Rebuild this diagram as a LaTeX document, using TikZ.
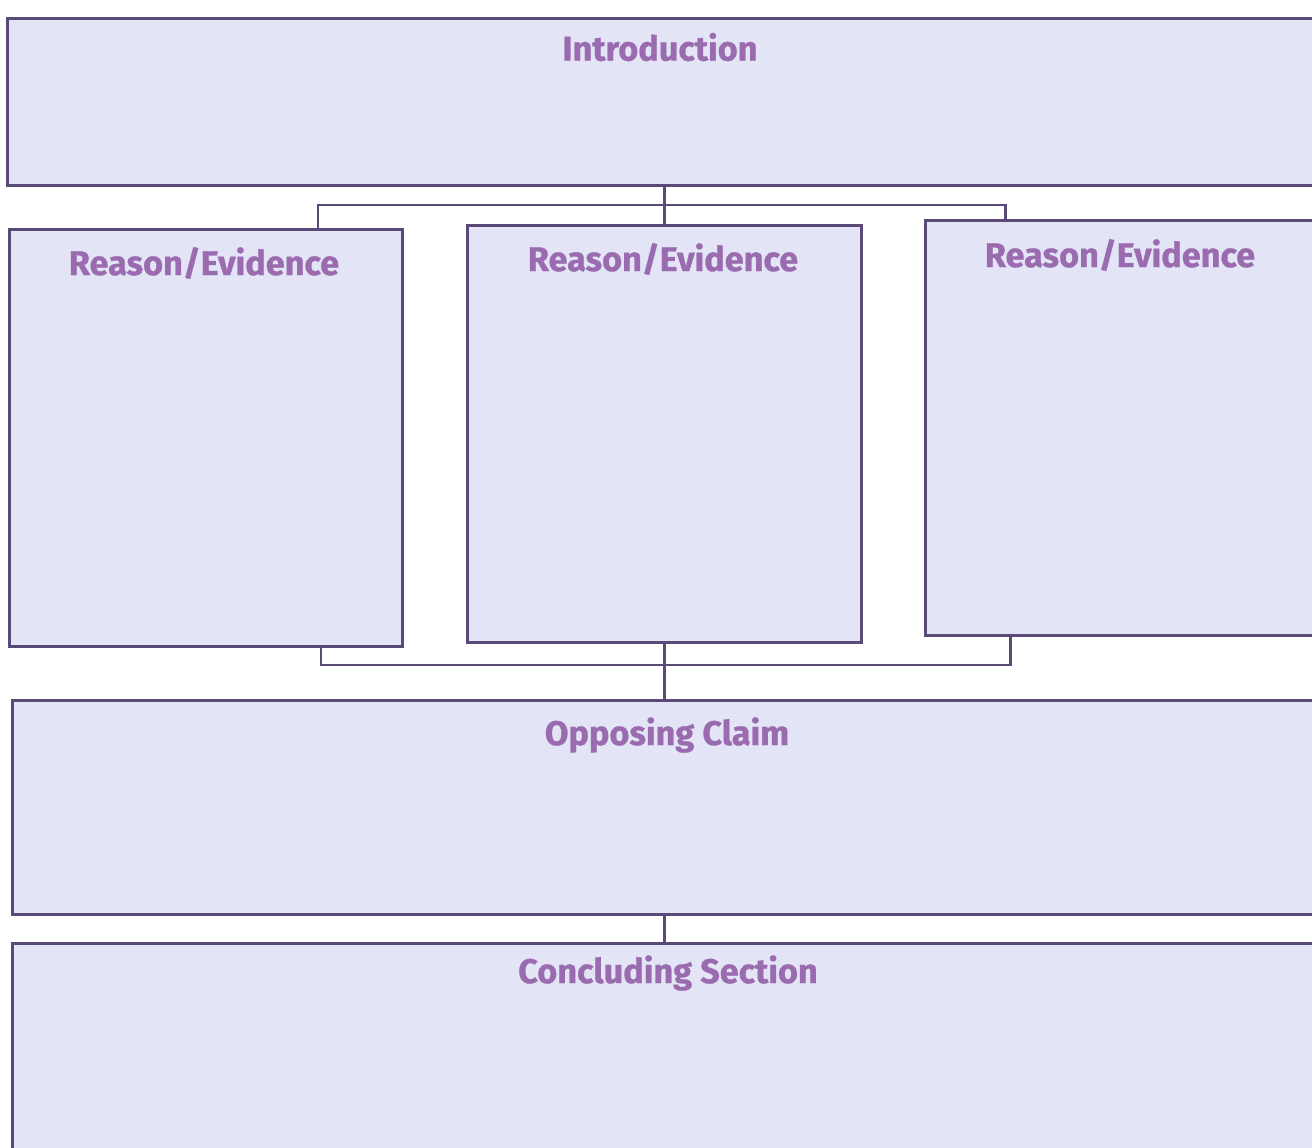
\documentclass[tikz,border=0pt]{standalone}
\usepackage{fontspec}
\setmainfont{Fira Sans}
\newfontfamily\headfont[BoldFeatures={FakeBold=0.8}]{Fira Sans}
\usetikzlibrary{positioning}
\definecolor{boxfill}{HTML}{E3E5F7}
\definecolor{boxline}{HTML}{5A4A78}
\definecolor{headtext}{HTML}{9A6BAF}

\begin{document}
\begin{tikzpicture}[
  x=0.02cm, y=-0.02cm,
  part/.style={draw=boxline,fill=boxfill,line width=1.7pt,inner sep=0pt},
  head/.style={font=\headfont\bfseries\fontsize{19.5}{21}\selectfont,text=headtext},
  link/.style={draw=boxline,line width=1.7pt}
]
\useasboundingbox (0,0) rectangle (1312,1148);
\fill[white] (0,0) rectangle (1312,1148);
\clip (0,0) rectangle (1312,1148);

\node[part,minimum width=26.18cm,minimum height=3.36cm] (intro) at (661.5,102) {};
\node[part,minimum width=7.88cm,minimum height=8.36cm] (left)  at (206,438) {};
\node[part,minimum width=7.90cm,minimum height=8.36cm] (mid)   at (664.5,434) {};
\node[part,minimum width=7.82cm,minimum height=8.32cm] (right) at (1120.5,428) {};
\node[part,minimum width=26.08cm,minimum height=4.30cm] (opp)  at (664,807.5) {};
\node[part,minimum width=26.08cm,minimum height=4.44cm] (conc) at (664,1054) {};

% headings
\node[head] (introT) at (660,47)  {Introduction};
\node[head] (leftT)  at (204,263) {Reason/Evidence};
\node[head] (midT)   at (663,259) {Reason/Evidence};
\node[head] (rightT) at (1120,255) {Reason/Evidence};
\node[head] (oppT)   at (667,735) {Opposing Claim};
\node[head] (concT)  at (668,973) {Concluding Section};

% branch bars
\coordinate (tbarL) at (318,205);
\coordinate (tbarR) at (1005,205);
\coordinate (bbarL) at (321,665);
\coordinate (bbarR) at (1010,665);

\draw[link] (mid.north |- intro.south) -- (mid.north);
\draw[link] (tbarL |- left.north) -- (tbarL) -- (tbarR) -- (tbarR |- right.north);
\draw[link] (bbarL |- left.south) -- (bbarL) -- (bbarR) -- (bbarR |- right.south);
\draw[link] (mid.south) -- (mid.south |- opp.north);
\draw[link] (opp.south) -- (conc.north);
\end{tikzpicture}
\end{document}
